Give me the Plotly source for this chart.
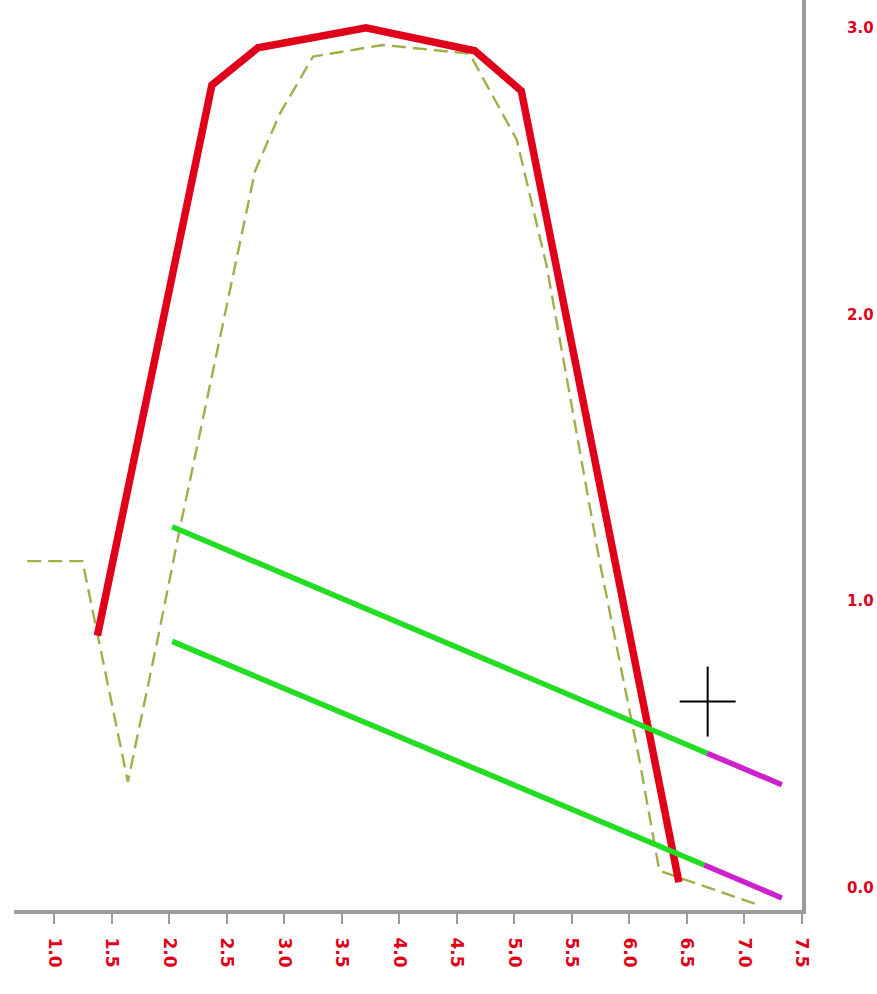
import plotly.graph_objects as go

# ---- data ----
x_ticks = list(range(14))
x_labels = ["1.0", "1.5", "2.0", "2.5", "3.0", "3.5", "4.0", "4.5",
            "5.0", "5.5", "6.0", "6.5", "7.0", "7.5"]
y_ticks = [0, 1, 2, 3]
y_labels = ["0.0", "1.0", "2.0", "3.0"]

red_x = [0.75, 2.74, 3.54, 5.42, 7.31, 8.12, 10.86]
red_y = [0.88, 2.80, 2.93, 3.00, 2.92, 2.78, 0.02]

dash_x = [-0.47, 0.49, 1.28, 1.81, 2.19, 3.18, 3.49, 3.92, 4.50, 5.71, 7.22,
          8.04, 8.56, 9.48, 10.17, 10.52, 10.95, 11.39, 12.25]
dash_y = [1.14, 1.14, 0.37, 0.88, 1.26, 2.21, 2.50, 2.70, 2.90, 2.94, 2.91,
          2.61, 2.17, 1.14, 0.45, 0.06, 0.03, 0.00, -0.06]

green1_x = [2.05, 11.35]
green1_y = [1.26, 0.47]
mag1_x = [11.35, 12.65]
mag1_y = [0.47, 0.36]

green2_x = [2.05, 11.30]
green2_y = [0.86, 0.08]
mag2_x = [11.30, 12.65]
mag2_y = [0.08, -0.035]

cursor_x = [11.36]
cursor_y = [0.65]

fig = go.Figure()
fig.add_trace(go.Scatter(x=dash_x, y=dash_y, mode="lines",
                         line=dict(color="#a3ae48", width=2.4, dash="14px,7px")))
fig.add_trace(go.Scatter(x=red_x, y=red_y, mode="lines",
                         line=dict(color="#e0001a", width=7.5)))
fig.add_trace(go.Scatter(x=green1_x, y=green1_y, mode="lines",
                         line=dict(color="#22dd22", width=5.5)))
fig.add_trace(go.Scatter(x=mag1_x, y=mag1_y, mode="lines",
                         line=dict(color="#cc22cc", width=5.5)))
fig.add_trace(go.Scatter(x=green2_x, y=green2_y, mode="lines",
                         line=dict(color="#22dd22", width=5.5)))
fig.add_trace(go.Scatter(x=mag2_x, y=mag2_y, mode="lines",
                         line=dict(color="#cc22cc", width=5.5)))
fig.add_trace(go.Scatter(x=cursor_x, y=cursor_y, mode="markers",
                         marker=dict(symbol="line-ew", size=40,
                                     line=dict(color="black", width=2))))
fig.add_trace(go.Scatter(x=cursor_x, y=cursor_y, mode="markers",
                         marker=dict(symbol="line-ns", size=50,
                                     line=dict(color="black", width=2))))

fig.update_layout(
    width=877, height=994,
    margin=dict(l=14, r=75, t=0, b=84),
    paper_bgcolor="white", plot_bgcolor="white",
    showlegend=False,
    xaxis=dict(range=[-0.7, 13.0], tickvals=x_ticks, ticktext=x_labels,
               tickangle=90, showgrid=False, zeroline=False,
               showline=True, linecolor="#9a9a9a", linewidth=4,
               ticks="outside", ticklen=10, tickwidth=2, tickcolor="#9a9a9a",
               ticklabelstandoff=10,
               tickfont=dict(color="#e0001a", size=17, family="DejaVu Sans", weight="bold")),
    yaxis=dict(range=[-0.077, 3.097], tickvals=y_ticks, ticktext=y_labels,
               side="right", showgrid=False, zeroline=False,
               showline=True, linecolor="#9a9a9a", linewidth=4,
               ticks="", ticklabelstandoff=38,
               tickfont=dict(color="#e0001a", size=15, family="DejaVu Sans", weight="bold")),
)

fig.write_html("out.html", config={"displayModeBar": False},
               post_script="document.body.style.margin='0px';")
